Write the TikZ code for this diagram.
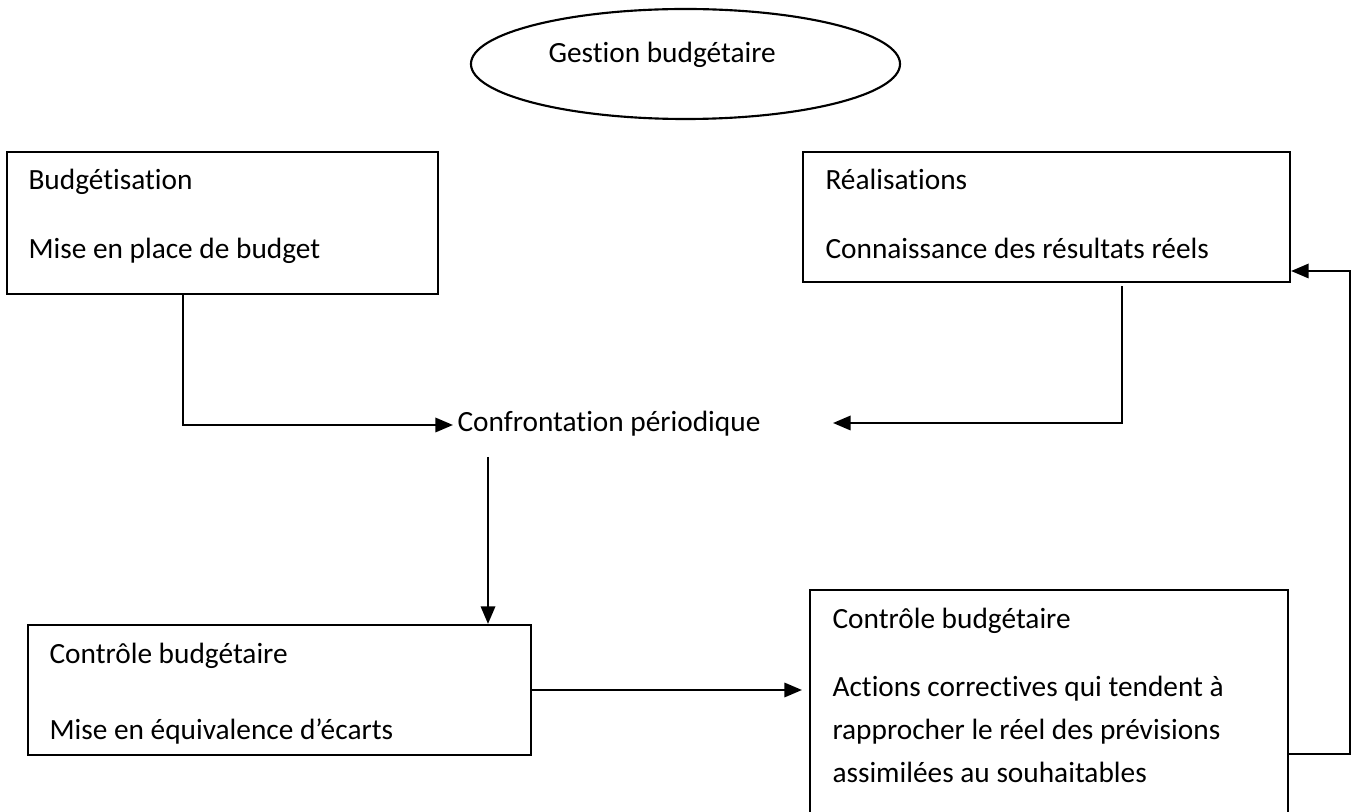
\documentclass[tikz,border=0pt]{standalone}
\usepackage{fontspec}
\setmainfont{Carlito}[Ligatures=NoCommon,RawFeature={-liga;-dlig;-clig}]
\usetikzlibrary{arrows.meta,shapes.geometric,fit,calc}
\begin{document}
\begin{tikzpicture}[x=0.375pt,y=-0.375pt,
  every node/.style={inner sep=0pt},
  line/.style={line width=0.8pt,black},
  arr/.style={line, -{Triangle[length=6.6pt,width=5.4pt]}},
  box/.style={draw,line width=0.8pt,rectangle,inner sep=0pt},
  txt/.style={font=\fontsize{11pt}{13pt}\selectfont,anchor=west,inner sep=0pt,text height=0.7em,text depth=0.2em}]
\clip (0,0) rectangle (1358,812);
\fill[white] (0,0) rectangle (1358,812);

% title ellipse
\node[draw,line width=0.8pt,ellipse,minimum width=160.9pt,minimum height=41.25pt] (ell) at (685.5,64) {};
\node[txt] (tell) at (548,56) {Gestion budgétaire};

% boxes
\node[box,fit={(7,152) (438,294)}] (b1) {};
\node[box,fit={(803,152) (1290,282)}] (b2) {};
\node[box,fit={(28,625) (531,755)}] (b3) {};
\node[box,fit={(810,590) (1288,840)}] (b4) {};

% texts
\node[txt] (t1a) at (28,183) {Budgétisation};
\node[txt] (t1b) at (28,252) {Mise en place de budget};
\node[txt] (t2a) at (825,183) {Réalisations};
\node[txt] (t2b) at (825,252) {Connaissance des résultats réels};
\node[txt] (t3a) at (49,657) {Contrôle budgétaire};
\node[txt] (t3b) at (49,733) {Mise en équivalence d’écarts};
\node[txt] (t4a) at (832,622) {Contrôle budgétaire};
\node[txt] (t4b) at (832,690) {Actions correctives qui tendent à};
\node[txt] (t4c) at (832,733) {rapprocher le réel des prévisions};
\node[txt] (t4d) at (832,776) {assimilées au souhaitables};

\node[txt,inner xsep=1.5pt] (conf) at (453,425) {Confrontation périodique};

% connectors
\draw[arr] ($(b1.south west)+(177,0)$) |- (conf.west);
\coordinate (c2) at (833,423);
\draw[arr] ($(b2.south west)+(320,3)$) |- (c2);
\coordinate (c3) at (488,457);
\draw[arr] (c3) -- (c3 |- b3.north);
\coordinate (c4) at (802,690);
\draw[arr] (b3.east) -- (b3.east -| c4);
\coordinate (r1) at (1350,754);
\coordinate (r2) at (1350,271);
\draw[arr] (r1 -| b4.east) -- (r1) -- (r2) -- (r2 -| b2.east);
\end{tikzpicture}
\end{document}
